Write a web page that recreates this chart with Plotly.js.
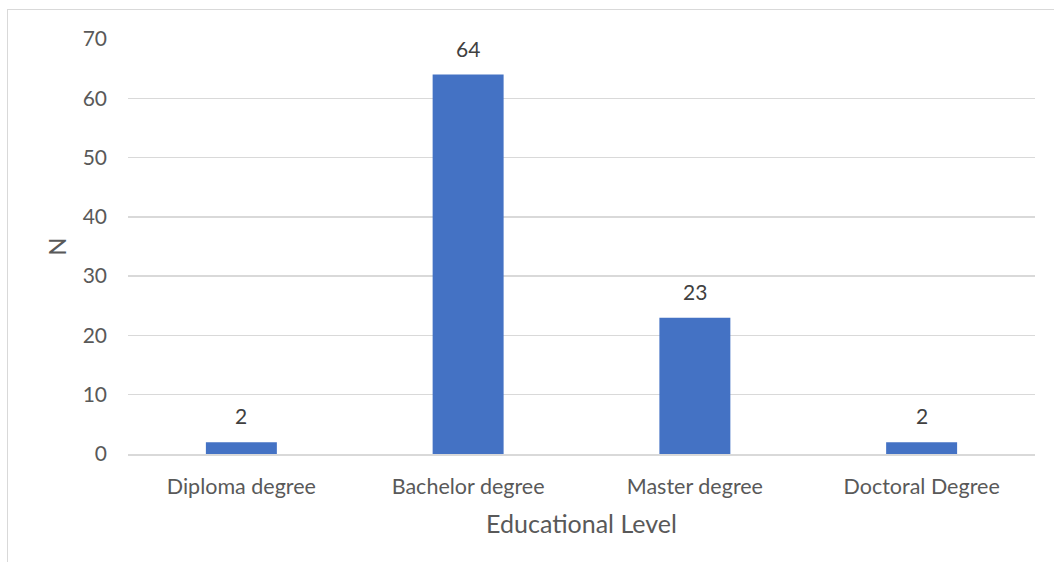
<!DOCTYPE html>
<html>
<head>
<meta charset="utf-8">
<script src="https://cdn.plot.ly/plotly-3.0.1.min.js"></script>
<style>
  html, body { margin: 0; padding: 0; background: #ffffff; }
  #wrap { position: relative; width: 1054px; height: 562px; overflow: hidden; }
  #chart { position: absolute; left: 0; top: 0; width: 1054px; height: 562px; }
  #frame { position: absolute; left: 7px; top: 9px; width: 1100px; height: 600px;
           border-left: 1.5px solid #d9d9d9; border-top: 1.5px solid #d9d9d9;
           pointer-events: none; }
</style>
</head>
<body>
<div id="wrap">
  <div id="chart"></div>
  <div id="frame"></div>
</div>
<script>
// Respondents by educational level
const levels = ["Diploma degree", "Bachelor degree", "Master degree", "Doctoral Degree"];
const counts = [2, 64, 23, 2];
const yTicks = [0, 10, 20, 30, 40, 50, 60, 70];

const FONT = "Lato, 'Open Sans', sans-serif";

const bars = {
  type: "bar",
  x: levels,
  y: counts,
  marker: { color: "#4472C4" },
  hoverinfo: "x+y"
};

// Value labels above each bar
const labels = levels.map((lvl, i) => ({
  x: lvl,
  y: counts[i],
  xref: "x",
  yref: "y",
  text: String(counts[i]),
  showarrow: false,
  yanchor: "bottom",
  yshift: 12,
  font: { family: FONT, size: 21, color: "#404040" }
}));

const layout = {
  width: 1054,
  height: 562,
  margin: { l: 128, r: 19, t: 39, b: 108 },
  paper_bgcolor: "#ffffff",
  plot_bgcolor: "#ffffff",
  bargap: 0.687,
  showlegend: false,
  font: { family: FONT, color: "#595959" },
  xaxis: {
    type: "category",
    showgrid: false,
    showline: true,
    linecolor: "#d9d9d9",
    linewidth: 1.5,
    ticks: "",
    tickfont: { family: FONT, size: 21.5, color: "#595959" },
    ticklabelstandoff: 13,
    title: { text: "Educational Level", font: { family: FONT, size: 25, color: "#595959" }, standoff: 17 }
  },
  yaxis: {
    range: [0, 70],
    tickvals: yTicks,
    ticktext: yTicks.map(String),
    showgrid: true,
    gridcolor: "#d9d9d9",
    gridwidth: 1.5,
    zeroline: false,
    showline: false,
    ticks: "",
    tickfont: { family: FONT, size: 21, color: "#595959" },
    ticklabelstandoff: 20,
    title: { text: "N", font: { family: FONT, size: 24, color: "#595959" }, standoff: 9 }
  },
  annotations: labels
};

Plotly.newPlot("chart", [bars], layout, { displayModeBar: false, staticPlot: true });
</script>
</body>
</html>
